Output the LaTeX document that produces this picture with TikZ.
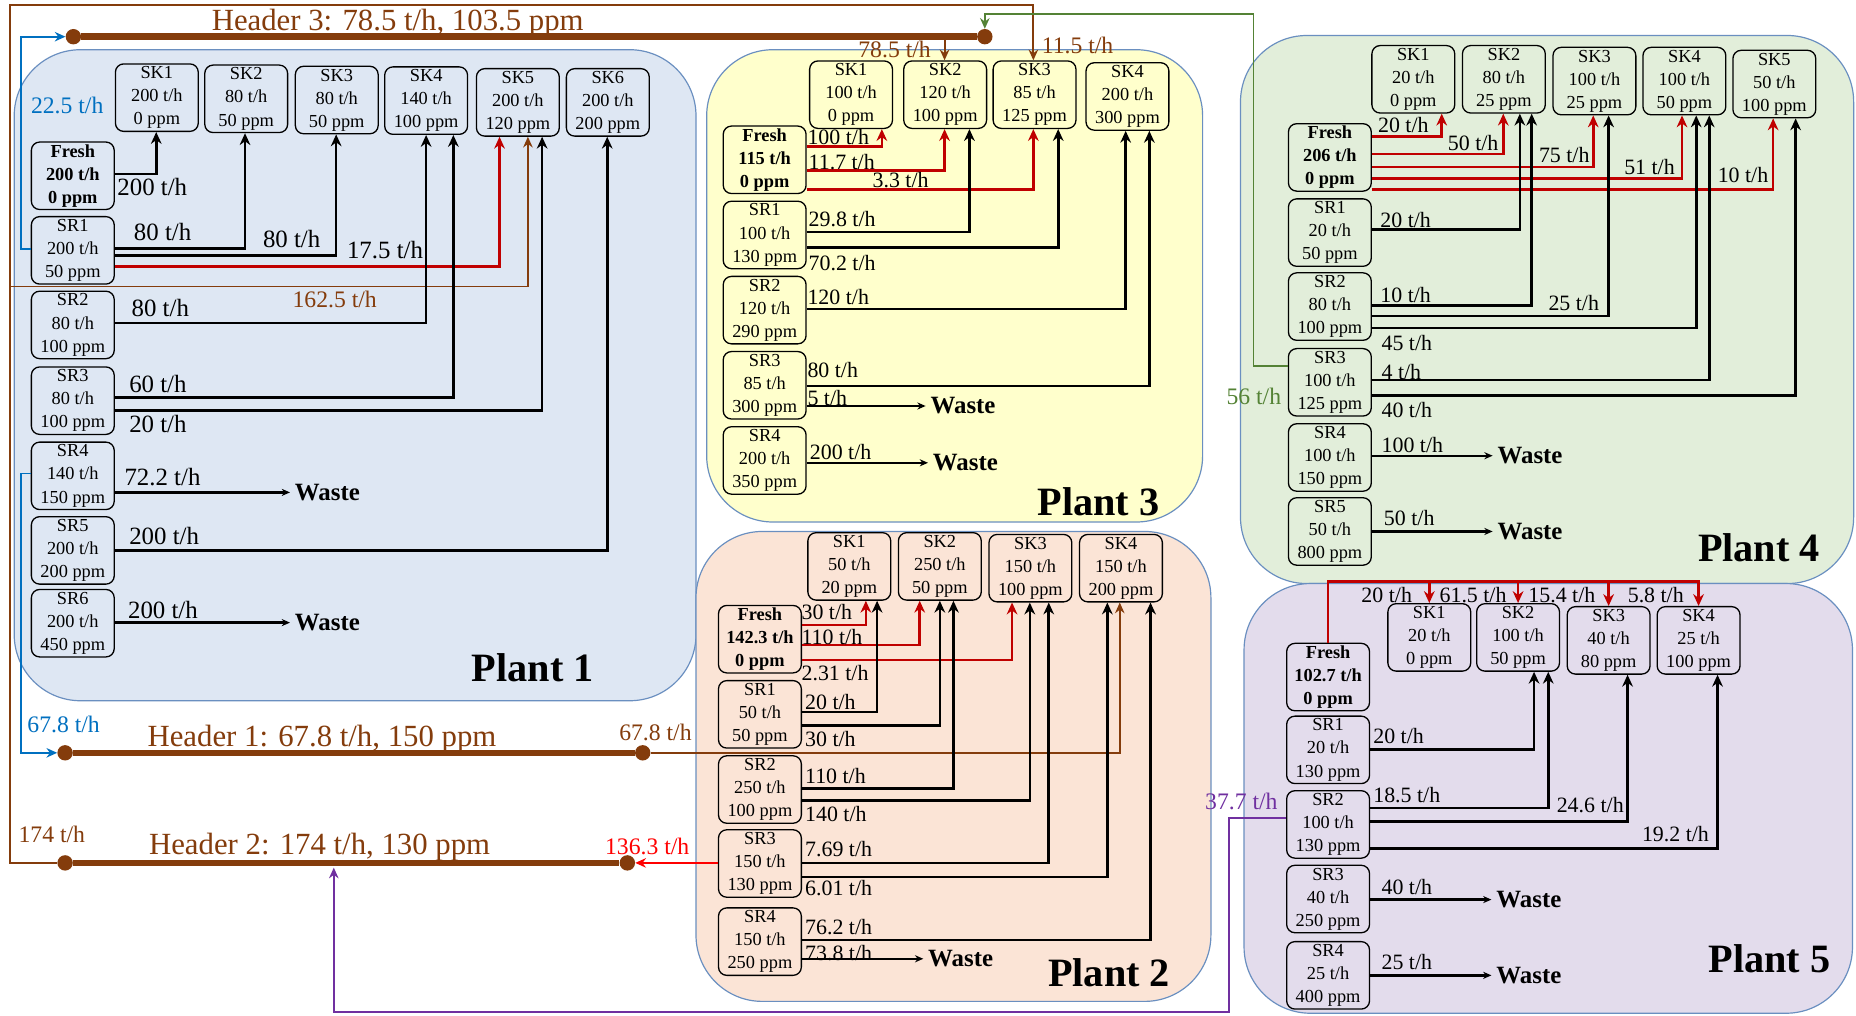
\documentclass[tikz,border=0pt]{standalone}
\usepackage{fontspec}
\setmainfont{Liberation Serif}
\usetikzlibrary{arrows.meta}

\definecolor{hdrbrown}{HTML}{843C0C}
\definecolor{flowblue}{HTML}{0070C0}
\definecolor{flowgreen}{HTML}{548235}
\definecolor{flowpurple}{HTML}{7030A0}
\definecolor{freshred}{HTML}{C00000}
\definecolor{plantedge}{HTML}{6A8FC0}
\definecolor{p1fill}{HTML}{DEE7F3}
\definecolor{p2fill}{HTML}{FBE4D6}
\definecolor{p3fill}{HTML}{FFFFCC}
\definecolor{p4fill}{HTML}{E2EEDA}
\definecolor{p5fill}{HTML}{E3DCEC}

\begin{document}
\begin{tikzpicture}[x=1pt, y=-1pt,
    plant/.style={draw=plantedge, line width=1pt, rounded corners=56pt},
    box/.style={draw, line width=1.1pt, rounded corners=7pt, minimum width=70pt,
        minimum height=57pt, inner sep=0pt, align=center,
        font=\fontsize{15.5}{19.5}\selectfont},
    freshbox/.style={box, font=\fontsize{15.5}{19.5}\selectfont\bfseries},
    flow/.style={line width=2.2pt, -{Stealth[length=10pt, width=9pt]}},
    fresh/.style={flow, freshred},
    pipe/.style={line width=1.6pt, -{Stealth[length=9pt, width=8pt]}},
    toWaste/.style={line width=2pt, -{Stealth[length=7pt, width=6pt]}},
    waste/.style={anchor=west, inner sep=4pt, font=\fontsize{21}{21}\selectfont\bfseries},
    lbl/.style={anchor=west, inner sep=0pt, font=\fontsize{18.5}{18.5}\selectfont},
    lblbig/.style={lbl, font=\fontsize{21}{21}\selectfont},
    note/.style={lbl, font=\fontsize{20}{20}\selectfont},
    title/.style={font=\fontsize{34}{34}\selectfont\bfseries},
    hdr/.style={anchor=base, text=hdrbrown, font=\fontsize{26}{26}\selectfont},
    dot/.style={circle, fill=hdrbrown, inner sep=0pt, minimum size=13pt},
    bus/.style={draw=hdrbrown, line width=5.5pt}]

    \useasboundingbox[fill=white] (0,0) rectangle (1568,858);

    % Plant areas
    \path[plant, fill=p1fill] (12,42) rectangle (588,592);
    \path[plant, fill=p3fill] (597,42) rectangle (1016,441);
    \path[plant, fill=p4fill] (1048,30) rectangle (1566,493);
    \path[plant, fill=p2fill] (588,449) rectangle (1023,846);
    \path[plant, fill=p5fill] (1051,493) rectangle (1565,856);

    \node[title] (t1) at (450,564) {Plant 1};
    \node[title] (t3) at (928,424) {Plant 3};
    \node[title] (t4) at (1486,463) {Plant 4};
    \node[title] (t2) at (937,822) {Plant 2};
    \node[title] (t5) at (1495,810) {Plant 5};

    % Plant 1 sources and sinks
    \node[box] (p1sk1) at (132.5,82.5) {SK1\\200 t/h\\0 ppm};
    \node[box] (p1sk2) at (208,83.5) {SK2\\80 t/h\\50 ppm};
    \node[box] (p1sk3) at (284.5,84.5) {SK3\\80 t/h\\50 ppm};
    \node[box] (p1sk4) at (360,85) {SK4\\140 t/h\\100 ppm};
    \node[box] (p1sk5) at (437.5,86.5) {SK5\\200 t/h\\120 ppm};
    \node[box] (p1sk6) at (513.5,86.5) {SK6\\200 t/h\\200 ppm};
    \node[freshbox] (p1fresh) at (61.5,148.5) {Fresh\\200 t/h\\0 ppm};
    \node[box] (p1sr1) at (61.5,211.5) {SR1\\200 t/h\\50 ppm};
    \node[box] (p1sr2) at (61.5,274.5) {SR2\\80 t/h\\100 ppm};
    \node[box] (p1sr3) at (61.5,338.5) {SR3\\80 t/h\\100 ppm};
    \node[box] (p1sr4) at (61.5,402) {SR4\\140 t/h\\150 ppm};
    \node[box] (p1sr5) at (61.5,465) {SR5\\200 t/h\\200 ppm};
    \node[box] (p1sr6) at (61.5,526.5) {SR6\\200 t/h\\450 ppm};
    \node[waste] (p1w1) at (245,416) {Waste};
    \node[waste] (p1w2) at (245,526) {Waste};

    % Plant 3 sources and sinks
    \node[box] (p3sk1) at (719,80) {SK1\\100 t/h\\0 ppm};
    \node[box] (p3sk2) at (798.5,80) {SK2\\120 t/h\\100 ppm};
    \node[box] (p3sk3) at (874,80) {SK3\\85 t/h\\125 ppm};
    \node[box] (p3sk4) at (952.5,81.5) {SK4\\200 t/h\\300 ppm};
    \node[freshbox] (p3fresh) at (646,135) {Fresh\\115 t/h\\0 ppm};
    \node[box] (p3sr1) at (646,198.5) {SR1\\100 t/h\\130 ppm};
    \node[box] (p3sr2) at (646,262) {SR2\\120 t/h\\290 ppm};
    \node[box] (p3sr3) at (646,325.5) {SR3\\85 t/h\\300 ppm};
    \node[box] (p3sr4) at (646,389) {SR4\\200 t/h\\350 ppm};
    \node[waste] (p3w1) at (782,343) {Waste};
    \node[waste] (p3w2) at (784,391) {Waste};

    % Plant 4 sources and sinks
    \node[box] (p4sk1) at (1194,67) {SK1\\20 t/h\\0 ppm};
    \node[box] (p4sk2) at (1270.5,67) {SK2\\80 t/h\\25 ppm};
    \node[box] (p4sk3) at (1347,68.5) {SK3\\100 t/h\\25 ppm};
    \node[box] (p4sk4) at (1423,68.5) {SK4\\100 t/h\\50 ppm};
    \node[box] (p4sk5) at (1499,71) {SK5\\50 t/h\\100 ppm};
    \node[freshbox] (p4fresh) at (1123.5,133) {Fresh\\206 t/h\\0 ppm};
    \node[box] (p4sr1) at (1123.5,196.5) {SR1\\20 t/h\\50 ppm};
    \node[box] (p4sr2) at (1123.5,259) {SR2\\80 t/h\\100 ppm};
    \node[box] (p4sr3) at (1123.5,323) {SR3\\100 t/h\\125 ppm};
    \node[box] (p4sr4) at (1123.5,386.5) {SR4\\100 t/h\\150 ppm};
    \node[box] (p4sr5) at (1123.5,449) {SR5\\50 t/h\\800 ppm};
    \node[waste] (p4w1) at (1261,385) {Waste};
    \node[waste] (p4w2) at (1261,449) {Waste};

    % Plant 2 sources and sinks
    \node[box] (p2sk1) at (717.5,478.5) {SK1\\50 t/h\\20 ppm};
    \node[box] (p2sk2) at (794,478.5) {SK2\\250 t/h\\50 ppm};
    \node[box] (p2sk3) at (870.5,480) {SK3\\150 t/h\\100 ppm};
    \node[box] (p2sk4) at (947,480) {SK4\\150 t/h\\200 ppm};
    \node[freshbox] (p2fresh) at (642,540) {Fresh\\142.3 t/h\\0 ppm};
    \node[box] (p2sr1) at (642,603.5) {SR1\\50 t/h\\50 ppm};
    \node[box] (p2sr2) at (642,667) {SR2\\250 t/h\\100 ppm};
    \node[box] (p2sr3) at (642,729.5) {SR3\\150 t/h\\130 ppm};
    \node[box] (p2sr4) at (642,795.5) {SR4\\150 t/h\\250 ppm};
    \node[waste] (p2w1) at (780,810) {Waste};

    % Plant 5 sources and sinks
    \node[box] (p5sk1) at (1207.5,538.5) {SK1\\20 t/h\\0 ppm};
    \node[box] (p5sk2) at (1282.5,538.5) {SK2\\100 t/h\\50 ppm};
    \node[box] (p5sk3) at (1359,541) {SK3\\40 t/h\\80 ppm};
    \node[box] (p5sk4) at (1435,541) {SK4\\25 t/h\\100 ppm};
    \node[freshbox] (p5fresh) at (1122,572) {Fresh\\102.7 t/h\\0 ppm};
    \node[box] (p5sr1) at (1122,633.5) {SR1\\20 t/h\\130 ppm};
    \node[box] (p5sr2) at (1122,696.5) {SR2\\100 t/h\\130 ppm};
    \node[box] (p5sr3) at (1122,759.5) {SR3\\40 t/h\\250 ppm};
    \node[box] (p5sr4) at (1122,824) {SR4\\25 t/h\\400 ppm};
    \node[waste] (p5w1) at (1260,760) {Waste};
    \node[waste] (p5w2) at (1260,824) {Waste};

    % Headers
    \node[dot] (h3l) at (62,31) {};
    \node[dot] (h3r) at (832,31) {};
    \node[dot] (h1l) at (55,636) {};
    \node[dot] (h1r) at (543,636) {};
    \node[dot] (h2l) at (55,729) {};
    \node[dot] (h2r) at (530,729) {};
    \draw[bus] (h3l) -- (h3r);
    \draw[bus] (h1l) -- (h1r);
    \draw[bus] (h2l) -- (h2r);
    \node[hdr] (h3txt) at (336,26) {Header 3: 78.5 t/h, 103.5 ppm};
    \node[hdr] (h1txt) at (272,631) {Header 1: 67.8 t/h, 150 ppm};
    \node[hdr] (h2txt) at (270,722) {Header 2: 174 t/h, 130 ppm};

    \coordinate (h2split) at (8.5,242);
    \coordinate (h3tap) at (798,31);
    \coordinate (h2tap) at (282,733);

    % Inter-plant pipes
    \draw[pipe, flowblue] (p1sr1.west |- 0,210) -- (18,210) |- (h3l);
    \draw[pipe, flowblue] (p1sr4.west |- 0,400) -- (18,400) |- (h1l);
    \draw[pipe, hdrbrown] (h2l) -| (8.5,4.5) -| (p3sk3.north -| 873,0);
    \draw[pipe, hdrbrown] (h2split) -| (p1sk5.south -| 446,0);
    \draw[pipe, hdrbrown] (h3tap) -- (p3sk2.north -| 798,0);
    \draw[pipe, flowgreen] (p4sr3.west |- 0,309) -| (1059,12) -| (h3r);
    \draw[pipe, hdrbrown] (h1r) -| (p2sk4.south -| 946,0);
    \draw[pipe, red] (p2sr3.west |- 0,729) -- (h2r);
    \draw[pipe, flowpurple] (p5sr2.west |- 0,691) -- (1038,691) |- (282,855) -- (h2tap);

    \node[note, flowblue] (n1) at (26,89) {22.5 t/h};
    \node[note, hdrbrown] (n2) at (247,253) {162.5 t/h};
    \node[note, flowblue] (n3) at (23,612) {67.8 t/h};
    \node[note, hdrbrown] (n4) at (523,619) {67.8 t/h};
    \node[note, hdrbrown] (n5) at (15.5,705) {174 t/h};
    \node[note, red] (n6) at (511,715) {136.3 t/h};
    \node[note, hdrbrown] (n7) at (725,42) {78.5 t/h};
    \node[note, hdrbrown] (n8) at (880,38) {11.5 t/h};
    \node[note, flowgreen] (n9) at (1036,335) {56 t/h};
    \node[note, flowpurple] (n10) at (1018,677) {37.7 t/h};

    % Plant 1 flows
    \draw[flow] (p1fresh.east |- 0,147) -| (p1sk1.south -| 132,0);
    \draw[flow] (p1sr1.east |- 0,210) -| (p1sk2.south -| 207,0);
    \draw[flow] (p1sr1.east |- 0,216) -| (p1sk3.south -| 284,0);
    \draw[fresh] (p1sr1.east |- 0,225) -| (p1sk5.south -| 422,0);
    \draw[flow] (p1sr2.east |- 0,273) -| (p1sk4.south -| 360,0);
    \draw[flow] (p1sr3.east |- 0,336) -| (p1sk4.south -| 383,0);
    \draw[flow] (p1sr3.east |- 0,347) -| (p1sk5.south -| 458,0);
    \draw[toWaste] (p1sr4.east |- 0,416) -- (p1w1);
    \draw[flow] (p1sr5.east |- 0,465) -| (p1sk6.south -| 513,0);
    \draw[toWaste] (p1sr6.east |- 0,526) -- (p1w2);

    \node[lblbig] (p1q1) at (99,158) {200 t/h};
    \node[lblbig] (p1q2) at (113,196) {80 t/h};
    \node[lblbig] (p1q3) at (222,202) {80 t/h};
    \node[lblbig] (p1q4) at (293,211) {17.5 t/h};
    \node[lblbig] (p1q5) at (111,260) {80 t/h};
    \node[lblbig] (p1q6) at (109,324) {60 t/h};
    \node[lblbig] (p1q7) at (109,358) {20 t/h};
    \node[lblbig] (p1q8) at (105,403) {72.2 t/h};
    \node[lblbig] (p1q9) at (109,453) {200 t/h};
    \node[lblbig] (p1q10) at (108,515) {200 t/h};

    % Plant 3 flows
    \draw[fresh] (p3fresh.east |- 0,124) -| (p3sk1.south -| 745,0);
    \draw[fresh] (p3fresh.east |- 0,144) -| (p3sk2.south -| 798,0);
    \draw[fresh] (p3fresh.east |- 0,160) -| (p3sk3.south -| 873,0);
    \draw[flow] (p3sr1.east |- 0,196) -| (p3sk2.south -| 819,0);
    \draw[flow] (p3sr1.east |- 0,209) -| (p3sk3.south -| 894,0);
    \draw[flow] (p3sr2.east |- 0,261) -| (p3sk4.south -| 951,0);
    \draw[flow] (p3sr3.east |- 0,326) -| (p3sk4.south -| 971,0);
    \draw[toWaste] (p3sr3.east |- 0,343) -- (p3w1);
    \draw[toWaste] (p3sr4.east |- 0,391) -- (p3w2);

    \node[lbl] (p3q1) at (682,116) {100 t/h};
    \node[lbl] (p3q2) at (683,137) {11.7 t/h};
    \node[lbl] (p3q3) at (737,152) {3.3 t/h};
    \node[lbl] (p3q4) at (683,185) {29.8 t/h};
    \node[lbl] (p3q5) at (683,222) {70.2 t/h};
    \node[lbl] (p3q6) at (682,251) {120 t/h};
    \node[lbl] (p3q7) at (682,313) {80 t/h};
    \node[lbl] (p3q8) at (682,336) {5 t/h};
    \node[lbl] (p3q9) at (684,382) {200 t/h};

    % Plant 4 flows
    \draw[fresh] (p4fresh.east |- 0,115.5) -| (p4sk1.south -| 1218,0);
    \draw[fresh] (p4fresh.east |- 0,130) -| (p4sk2.south -| 1270,0);
    \draw[fresh] (p4fresh.east |- 0,141) -| (p4sk3.south -| 1346,0);
    \draw[fresh] (p4fresh.east |- 0,151) -| (p4sk4.south -| 1421,0);
    \draw[fresh] (p4fresh.east |- 0,160) -| (p4sk5.south -| 1498,0);
    \draw[flow] (p4sr1.east |- 0,194) -| (p4sk2.south -| 1284,0);
    \draw[flow] (p4sr2.east |- 0,258) -| (p4sk2.south -| 1294,0);
    \draw[flow] (p4sr2.east |- 0,267) -| (p4sk3.south -| 1359,0);
    \draw[flow] (p4sr2.east |- 0,277) -| (p4sk4.south -| 1433,0);
    \draw[flow] (p4sr3.east |- 0,321) -| (p4sk4.south -| 1444,0);
    \draw[flow] (p4sr3.east |- 0,334) -| (p4sk5.south -| 1517,0);
    \draw[toWaste] (p4sr4.east |- 0,385) -- (p4w1);
    \draw[toWaste] (p4sr5.east |- 0,449) -- (p4w2);

    \node[lbl] (p4q1) at (1164,106) {20 t/h};
    \node[lbl] (p4q2) at (1223,121) {50 t/h};
    \node[lbl] (p4q3) at (1300,131) {75 t/h};
    \node[lbl] (p4q4) at (1372,141) {51 t/h};
    \node[lbl] (p4q5) at (1451,148) {10 t/h};
    \node[lbl] (p4q6) at (1166,186) {20 t/h};
    \node[lbl] (p4q7) at (1166,249) {10 t/h};
    \node[lbl] (p4q8) at (1308,256) {25 t/h};
    \node[lbl] (p4q9) at (1167,290) {45 t/h};
    \node[lbl] (p4q10) at (1167,314) {4 t/h};
    \node[lbl] (p4q11) at (1167,346) {40 t/h};
    \node[lbl] (p4q12) at (1167,376) {100 t/h};
    \node[lbl] (p4q13) at (1169,438) {50 t/h};

    % Plant 2 flows
    \draw[fresh] (p2fresh.east |- 0,528) -| (p2sk1.south -| 731.5,0);
    \draw[fresh] (p2fresh.east |- 0,545) -| (p2sk2.south -| 777,0);
    \draw[fresh] (p2fresh.east |- 0,557.5) -| (p2sk3.south -| 855,0);
    \draw[flow] (p2sr1.east |- 0,601.5) -| (p2sk1.south -| 741,0);
    \draw[flow] (p2sr1.east |- 0,613) -| (p2sk2.south -| 794,0);
    \draw[flow] (p2sr2.east |- 0,666) -| (p2sk2.south -| 805.5,0);
    \draw[flow] (p2sr2.east |- 0,676.5) -| (p2sk3.south -| 870,0);
    \draw[flow] (p2sr3.east |- 0,729) -| (p2sk3.south -| 886,0);
    \draw[flow] (p2sr3.east |- 0,741) -| (p2sk4.south -| 935.5,0);
    \draw[flow] (p2sr4.east |- 0,794) -| (p2sk4.south -| 972,0);
    \draw[toWaste] (p2sr4.east |- 0,810) -- (p2w1);

    \node[lbl] (p2q1) at (677,517) {30 t/h};
    \node[lbl] (p2q2) at (677,538) {110 t/h};
    \node[lbl] (p2q3) at (677,569) {2.31 t/h};
    \node[lbl] (p2q4) at (680,593) {20 t/h};
    \node[lbl] (p2q5) at (680,624) {30 t/h};
    \node[lbl] (p2q6) at (680,656) {110 t/h};
    \node[lbl] (p2q7) at (680,688) {140 t/h};
    \node[lbl] (p2q8) at (680,717) {7.69 t/h};
    \node[lbl] (p2q9) at (680,750) {6.01 t/h};
    \node[lbl] (p2q10) at (680,783) {76.2 t/h};
    \node[lbl] (p2q11) at (680,805) {73.8 t/h};

    % Plant 5 flows
    \draw[fresh] (p5fresh.north) |- (p5sk4.north |- 0,491.5) -- (p5sk4.north);
    \draw[fresh] (p5sk1.north |- 0,491.5) -- (p5sk1.north);
    \draw[fresh] (p5sk2.north |- 0,491.5) -- (p5sk2.north);
    \draw[fresh] (p5sk3.north |- 0,491.5) -- (p5sk3.north);
    \draw[flow] (p5sr1.east |- 0,633) -| (p5sk2.south -| 1296,0);
    \draw[flow] (p5sr2.east |- 0,682.5) -| (p5sk2.south -| 1308,0);
    \draw[flow] (p5sr2.east |- 0,694) -| (p5sk3.south -| 1375,0);
    \draw[flow] (p5sr2.east |- 0,717) -| (p5sk4.south -| 1451,0);
    \draw[toWaste] (p5sr3.east |- 0,760) -- (p5w1);
    \draw[toWaste] (p5sr4.east |- 0,824) -- (p5w2);

    \node[lbl] (p5q1) at (1150,503) {20 t/h};
    \node[lbl] (p5q2) at (1216,503) {61.5 t/h};
    \node[lbl] (p5q3) at (1291,503) {15.4 t/h};
    \node[lbl] (p5q4) at (1375,503) {5.8 t/h};
    \node[lbl] (p5q5) at (1160,622) {20 t/h};
    \node[lbl] (p5q6) at (1160,672) {18.5 t/h};
    \node[lbl] (p5q7) at (1315,680) {24.6 t/h};
    \node[lbl] (p5q8) at (1387,705) {19.2 t/h};
    \node[lbl] (p5q9) at (1167,749) {40 t/h};
    \node[lbl] (p5q10) at (1167,813) {25 t/h};
\end{tikzpicture}
\end{document}
